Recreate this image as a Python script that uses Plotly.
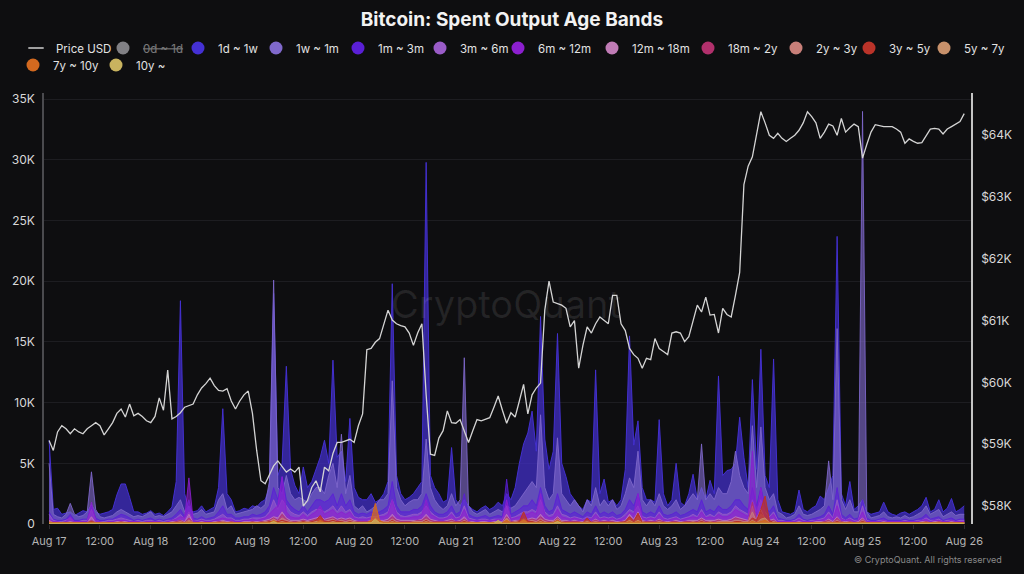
import plotly.graph_objects as go
import pandas as pd

# ---------------- data (hourly, Aug 17 00:00 -> Aug 26 00:00) ----------------
times = pd.date_range("2024-08-17 00:00", "2024-08-26 00:00", freq="h")

tick_vals = ["2024-08-17 00:00", "2024-08-17 12:00", "2024-08-18 00:00", "2024-08-18 12:00",
             "2024-08-19 00:00", "2024-08-19 12:00", "2024-08-20 00:00", "2024-08-20 12:00",
             "2024-08-21 00:00", "2024-08-21 12:00", "2024-08-22 00:00", "2024-08-22 12:00",
             "2024-08-23 00:00", "2024-08-23 12:00", "2024-08-24 00:00", "2024-08-24 12:00",
             "2024-08-25 00:00", "2024-08-25 12:00", "2024-08-26 00:00"]
tick_text = ["Aug 17", "12:00", "Aug 18", "12:00", "Aug 19", "12:00", "Aug 20", "12:00",
             "Aug 21", "12:00", "Aug 22", "12:00", "Aug 23", "12:00", "Aug 24", "12:00",
             "Aug 25", "12:00", "Aug 26"]

left_tick_vals = [0, 5, 10, 15, 20, 25, 30, 35]
left_tick_text = ["0", "5K", "10K", "15K", "20K", "25K", "30K", "35K"]
right_tick_vals = [58, 59, 60, 61, 62, 63, 64]
right_tick_text = ["$58K", "$59K", "$60K", "$61K", "$62K", "$63K", "$64K"]

# Price USD (thousands)
price_usd = [
    59.06, 58.9, 59.2, 59.3, 59.25, 59.17, 59.25, 59.2, 59.17, 59.25, 59.3, 59.35,
    59.3, 59.15, 59.25, 59.35, 59.5, 59.57, 59.44, 59.65, 59.46, 59.5, 59.45, 59.38,
    59.35, 59.45, 59.75, 59.55, 60.2, 59.41, 59.45, 59.51, 59.6, 59.63, 59.65, 59.8,
    59.91, 59.98, 60.07, 59.95, 59.87, 59.86, 59.9, 59.7, 59.57, 59.7, 59.8, 59.86,
    59.5, 58.9, 58.41, 58.36, 58.5, 58.65, 58.73, 58.63, 58.55, 58.6, 58.55, 58.63,
    58.0, 58.09, 58.3, 58.41, 58.23, 58.63, 58.57, 58.85, 59.03, 59.03, 59.05, 59.08,
    59.03, 59.3, 59.49, 60.53, 60.55, 60.65, 60.71, 60.95, 61.17, 61.01, 60.95, 60.92,
    60.9, 60.8, 60.6, 60.8, 60.95, 59.8, 58.84, 58.82, 59.1, 59.22, 59.54, 59.35,
    59.34, 59.4, 59.2, 59.03, 59.22, 59.4, 59.38, 59.4, 59.43, 59.6, 59.78, 59.55,
    59.34, 59.51, 59.44, 59.7, 59.97, 59.49, 59.8, 59.91, 59.99, 61.17, 61.64, 61.3,
    61.28, 61.25, 61.2, 60.9, 61.0, 60.23, 60.6, 60.9, 60.8, 60.95, 61.06, 61.0,
    60.95, 61.41, 61.41, 60.95, 60.84, 60.55, 60.45, 60.39, 60.23, 60.39, 60.37, 60.71,
    60.55, 60.5, 60.45, 60.8, 60.82, 60.8, 60.66, 60.74, 61.0, 61.25, 61.14, 61.38,
    61.09, 61.1, 60.8, 61.2, 61.1, 61.06, 61.41, 61.78, 63.2, 63.5, 63.65, 64.0,
    64.38, 64.2, 64.0, 63.95, 64.03, 63.95, 63.9, 63.95, 64.0, 64.08, 64.2, 64.38,
    64.3, 64.2, 63.95, 64.05, 64.18, 64.15, 64.0, 64.27, 64.05, 64.12, 64.18, 64.14,
    63.63, 63.85, 64.05, 64.17, 64.15, 64.14, 64.14, 64.14, 64.1, 64.05, 63.87, 63.94,
    63.9, 63.87, 63.88, 63.98, 64.1, 64.11, 64.1, 64.02, 64.1, 64.14, 64.18, 64.22,
    64.35]

# Spent output per age band (thousand BTC)
band_0d_1d = [
    2.1, 1.5, 1.4, 1.2, 1.3, 1.4, 1.1, 1.2, 1.3, 1.2, 1.8, 1.3,
    1.1, 1.2, 1.3, 1.4, 1.9, 2.2, 2.0, 1.7, 1.3, 1.2, 1.1, 1.2,
    1.3, 1.1, 1.2, 1.0, 1.3, 1.5, 2.5, 4.0, 2.0, 1.6, 1.3, 1.4,
    1.6, 1.3, 1.4, 1.5, 2.2, 3.5, 2.0, 1.8, 1.3, 1.4, 1.5, 1.4,
    1.6, 1.5, 1.8, 2.0, 2.5, 4.5, 2.8, 3.0, 3.5, 2.6, 2.2, 2.0,
    2.8, 2.2, 2.5, 3.0, 3.2, 3.5, 3.0, 4.0, 3.0, 3.2, 2.5, 3.0,
    2.0, 1.8, 1.7, 1.7, 1.9, 1.6, 1.8, 2.0, 2.4, 4.5, 2.5, 2.0,
    1.8, 1.9, 2.0, 2.2, 2.5, 5.0, 2.5, 2.2, 1.9, 1.6, 1.8, 2.6,
    1.7, 1.5, 3.0, 1.4, 1.2, 1.1, 1.2, 1.3, 1.1, 1.2, 1.4, 1.3,
    2.0, 1.7, 2.0, 2.8, 3.2, 3.5, 4.0, 3.0, 4.5, 3.2, 2.5, 2.8,
    4.0, 2.6, 2.2, 1.8, 1.7, 1.4, 1.2, 1.6, 1.5, 3.5, 1.8, 2.2,
    1.5, 1.6, 1.3, 1.6, 2.4, 4.0, 2.8, 3.2, 2.0, 1.7, 1.7, 1.5,
    3.0, 1.8, 1.4, 1.6, 2.5, 1.5, 1.4, 1.8, 2.4, 1.7, 2.5, 1.7,
    2.2, 1.8, 3.5, 2.4, 2.5, 2.6, 3.0, 3.5, 2.8, 2.2, 3.8, 2.4,
    4.0, 2.5, 2.0, 3.6, 1.4, 1.0, 0.9, 0.9, 1.0, 1.6, 1.0, 0.9,
    1.0, 1.1, 1.4, 1.3, 2.0, 1.8, 4.5, 1.6, 1.2, 1.8, 1.0, 1.1,
    5.0, 1.0, 0.8, 0.9, 0.9, 1.2, 0.9, 0.8, 0.8, 0.9, 0.9, 0.8,
    0.9, 1.0, 1.1, 1.4, 0.9, 1.0, 1.3, 0.9, 1.0, 1.3, 0.9, 1.0,
    1.1]

band_1d_1w = [
    6.9, 1.2, 1.3, 0.8, 0.9, 1.0, 0.7, 0.9, 1.1, 1.0, 1.6, 1.0,
    0.8, 0.9, 1.0, 1.2, 2.4, 3.3, 3.3, 2.2, 1.0, 1.0, 0.8, 0.9,
    1.1, 0.8, 0.9, 0.7, 1.0, 1.4, 3.5, 18.4, 2.5, 1.2, 1.0, 1.1,
    1.5, 1.0, 1.2, 1.4, 3.0, 9.5, 2.5, 2.0, 1.0, 1.1, 1.3, 1.2,
    1.5, 1.4, 1.8, 2.0, 3.0, 19.0, 4.0, 5.0, 13.0, 4.5, 3.2, 2.5,
    4.7, 3.0, 3.5, 4.5, 5.5, 6.9, 5.0, 13.5, 5.5, 6.0, 3.5, 8.7,
    3.0, 2.2, 2.0, 2.0, 2.5, 1.8, 2.0, 2.5, 3.5, 19.8, 4.0, 2.5,
    2.0, 2.2, 2.5, 3.0, 3.5, 29.8, 4.0, 3.0, 2.5, 1.8, 2.0, 6.3,
    2.0, 1.5, 2.0, 1.5, 1.2, 1.0, 1.3, 1.5, 1.2, 1.4, 1.8, 1.5,
    2.5, 2.0, 3.0, 5.0, 6.6, 7.5, 9.3, 6.0, 17.1, 7.0, 4.5, 6.0,
    15.7, 5.0, 3.9, 2.5, 2.0, 1.5, 1.2, 2.0, 1.8, 12.7, 2.5, 3.7,
    1.8, 2.0, 1.5, 2.0, 4.5, 15.5, 6.5, 8.5, 3.0, 2.0, 2.0, 1.8,
    8.6, 2.5, 1.5, 2.0, 5.0, 1.8, 1.5, 2.5, 4.1, 2.0, 3.0, 2.0,
    3.6, 2.5, 12.2, 4.0, 4.4, 4.5, 5.0, 8.8, 5.5, 3.0, 11.9, 4.5,
    14.4, 4.0, 3.0, 13.6, 2.0, 1.0, 0.9, 0.8, 1.0, 2.8, 1.2, 1.0,
    1.3, 1.5, 2.3, 2.0, 3.0, 4.0, 23.7, 2.5, 1.5, 3.5, 1.2, 1.5,
    2.0, 1.0, 0.8, 0.9, 1.0, 1.8, 1.0, 0.8, 0.7, 0.9, 1.0, 0.8,
    1.0, 1.2, 1.5, 2.2, 1.0, 1.2, 2.0, 1.0, 1.3, 2.1, 1.0, 1.2,
    1.5]

band_1w_1m = [
    5.0, 0.8, 0.6, 0.5, 0.8, 1.7, 0.8, 0.6, 0.7, 1.0, 4.3, 1.2,
    0.6, 0.5, 0.6, 0.7, 1.0, 1.2, 1.0, 0.8, 0.6, 0.7, 0.6, 0.8,
    1.0, 0.6, 0.7, 0.6, 0.8, 1.0, 1.5, 2.0, 1.0, 1.5, 0.8, 0.9,
    1.2, 0.8, 0.9, 1.0, 2.0, 2.5, 1.2, 1.5, 0.8, 0.9, 1.0, 1.1,
    1.2, 1.5, 1.3, 1.6, 3.5, 20.1, 3.0, 2.5, 4.0, 2.5, 2.0, 2.2,
    2.0, 1.8, 2.5, 3.0, 3.0, 2.5, 4.0, 5.0, 3.0, 7.4, 2.5, 4.0,
    1.5, 1.2, 1.5, 1.0, 1.2, 1.5, 2.0, 2.0, 2.5, 11.8, 3.0, 2.0,
    1.5, 1.8, 2.0, 2.0, 2.5, 7.0, 3.0, 2.0, 1.5, 1.2, 1.5, 2.5,
    1.5, 2.0, 13.7, 1.5, 1.0, 0.8, 1.0, 1.2, 0.8, 1.0, 1.2, 1.0,
    1.5, 1.3, 1.5, 2.0, 2.5, 3.0, 3.5, 3.0, 9.0, 3.0, 2.0, 2.5,
    7.1, 2.5, 2.0, 1.5, 2.0, 1.5, 1.0, 2.0, 1.5, 3.0, 1.5, 2.0,
    1.5, 2.0, 1.2, 1.5, 2.5, 3.8, 3.0, 6.0, 2.0, 1.5, 2.0, 1.5,
    2.5, 1.5, 1.2, 1.5, 2.0, 1.2, 1.5, 2.0, 2.5, 2.0, 6.6, 2.0,
    2.5, 2.0, 3.0, 2.5, 2.5, 3.5, 6.0, 4.0, 3.0, 2.5, 8.1, 3.0,
    8.0, 3.0, 2.0, 2.5, 1.0, 0.8, 0.5, 0.6, 0.8, 1.5, 0.8, 0.7,
    0.8, 1.0, 1.2, 1.5, 5.2, 2.0, 16.1, 2.0, 1.2, 2.0, 1.0, 1.0,
    34.0, 1.0, 0.5, 0.6, 0.7, 1.0, 0.6, 0.5, 0.6, 0.5, 0.7, 0.5,
    0.6, 0.8, 1.0, 1.5, 0.8, 1.0, 1.2, 0.6, 0.8, 1.0, 0.7, 0.8,
    0.8]

band_1m_3m = [
    1.0, 0.4, 0.3, 0.3, 0.4, 0.8, 0.3, 0.3, 0.4, 0.4, 1.5, 0.5,
    0.3, 0.3, 0.4, 0.4, 0.6, 0.8, 0.7, 0.5, 0.3, 0.4, 0.3, 0.4,
    0.5, 0.3, 0.4, 0.3, 0.4, 0.5, 0.8, 1.2, 0.6, 2.0, 0.5, 0.4,
    0.6, 0.4, 0.5, 0.6, 1.0, 1.5, 0.8, 0.8, 0.5, 0.5, 0.6, 0.6,
    0.8, 0.7, 0.8, 1.0, 1.5, 3.0, 2.0, 3.9, 2.0, 1.5, 1.2, 1.0,
    1.5, 1.0, 1.5, 2.0, 2.0, 1.8, 2.0, 2.5, 1.5, 2.5, 1.5, 2.0,
    1.0, 0.8, 0.9, 0.8, 1.0, 0.9, 1.0, 1.2, 1.5, 3.5, 1.5, 1.0,
    1.0, 1.0, 1.2, 1.2, 1.5, 2.5, 1.5, 1.0, 0.8, 0.8, 1.0, 1.5,
    0.8, 1.0, 2.5, 0.8, 0.6, 0.5, 0.6, 0.7, 0.5, 0.6, 0.7, 0.6,
    3.7, 0.8, 1.0, 1.2, 1.5, 1.5, 2.0, 1.5, 3.0, 1.5, 1.0, 1.2,
    2.5, 1.2, 1.0, 0.8, 1.0, 0.8, 0.6, 1.0, 0.8, 1.5, 0.8, 1.0,
    0.8, 1.0, 0.7, 0.8, 1.2, 2.0, 1.5, 2.5, 1.0, 0.8, 1.0, 0.8,
    1.5, 0.8, 0.7, 0.8, 1.0, 0.7, 0.8, 1.0, 1.2, 1.0, 2.0, 1.0,
    1.2, 1.0, 1.5, 1.2, 1.2, 1.5, 2.0, 2.0, 1.5, 1.2, 3.0, 1.5,
    3.0, 1.5, 1.0, 1.5, 0.5, 0.4, 0.3, 0.3, 0.4, 0.8, 0.4, 0.3,
    0.4, 0.5, 0.6, 0.8, 1.5, 0.8, 3.0, 0.8, 0.5, 0.8, 0.4, 0.5,
    2.0, 0.5, 0.3, 0.3, 0.4, 0.5, 0.3, 0.3, 0.3, 0.3, 0.4, 0.3,
    0.3, 0.4, 0.5, 0.8, 0.4, 0.5, 0.6, 0.3, 0.4, 0.5, 0.3, 0.4,
    0.4]

band_3m_6m = [
    0.8, 0.3, 0.2, 0.2, 0.3, 0.5, 0.2, 0.2, 0.3, 0.3, 1.2, 0.3,
    0.2, 0.2, 0.3, 0.3, 0.4, 0.5, 0.4, 0.3, 0.2, 0.3, 0.2, 0.3,
    0.3, 0.2, 0.3, 0.2, 0.3, 0.3, 0.5, 0.8, 0.4, 1.0, 0.3, 0.3,
    0.4, 0.3, 0.3, 0.4, 0.6, 0.8, 0.5, 0.5, 0.3, 0.3, 0.4, 0.4,
    0.5, 0.5, 0.5, 0.6, 1.0, 2.0, 1.2, 2.0, 1.5, 1.0, 0.8, 0.7,
    1.0, 0.7, 1.0, 1.2, 1.2, 1.0, 1.2, 1.5, 1.0, 1.5, 1.0, 1.2,
    0.6, 0.5, 0.6, 0.5, 0.6, 0.6, 0.7, 0.8, 1.0, 2.0, 1.0, 0.7,
    0.6, 0.7, 0.8, 0.8, 1.0, 1.5, 1.0, 0.7, 0.5, 0.5, 0.6, 1.0,
    0.5, 0.6, 1.5, 0.5, 0.4, 0.3, 0.4, 0.4, 0.3, 0.4, 0.4, 0.4,
    1.5, 0.5, 0.6, 0.8, 1.0, 1.0, 1.2, 1.0, 2.0, 1.0, 0.7, 0.8,
    1.5, 0.8, 0.7, 0.5, 0.6, 0.5, 0.4, 0.6, 0.5, 1.0, 0.5, 0.6,
    0.5, 0.6, 0.4, 0.5, 0.8, 1.2, 1.0, 1.5, 0.6, 0.5, 0.6, 0.5,
    1.0, 0.5, 0.4, 0.5, 0.6, 0.4, 0.5, 0.6, 0.8, 0.6, 1.2, 0.6,
    0.8, 0.6, 1.0, 0.8, 0.8, 1.0, 1.5, 1.2, 1.0, 0.8, 2.0, 1.0,
    2.0, 1.0, 0.6, 1.0, 0.3, 0.3, 0.2, 0.2, 0.3, 0.5, 0.3, 0.2,
    0.3, 0.3, 0.4, 0.5, 1.0, 0.5, 2.0, 0.5, 0.3, 0.5, 0.3, 0.3,
    1.5, 0.3, 0.2, 0.2, 0.3, 0.3, 0.2, 0.2, 0.2, 0.2, 0.3, 0.2,
    0.2, 0.3, 0.3, 0.5, 0.3, 0.3, 0.4, 0.2, 0.3, 0.3, 0.2, 0.3,
    0.3]

band_6m_12m = [
    0.4, 0.2, 0.2, 0.1, 0.2, 0.6, 0.2, 0.2, 0.2, 0.2, 1.8, 0.3,
    0.2, 0.1, 0.2, 0.2, 0.3, 0.3, 0.3, 0.2, 0.2, 0.2, 0.1, 0.2,
    0.2, 0.2, 0.2, 0.1, 0.2, 0.3, 0.4, 0.6, 0.5, 3.8, 0.3, 0.2,
    0.3, 0.2, 0.2, 0.3, 0.4, 0.5, 0.4, 0.4, 0.2, 0.2, 0.3, 0.3,
    0.4, 0.3, 0.4, 0.5, 0.8, 1.2, 1.5, 3.9, 1.0, 0.6, 0.5, 0.5,
    0.8, 0.5, 0.8, 1.0, 1.5, 0.8, 1.0, 1.2, 0.8, 1.0, 0.8, 1.0,
    0.5, 0.4, 0.4, 0.4, 0.5, 0.5, 0.6, 0.6, 0.8, 2.0, 0.8, 0.5,
    0.5, 0.5, 0.6, 0.6, 0.8, 2.0, 0.8, 0.6, 0.4, 0.4, 0.5, 0.8,
    0.4, 0.5, 1.2, 0.4, 0.3, 0.3, 0.3, 0.3, 0.3, 0.3, 0.4, 0.3,
    2.0, 0.4, 0.5, 0.6, 0.8, 0.8, 1.0, 0.8, 2.5, 0.8, 0.5, 0.6,
    1.2, 0.6, 0.5, 0.4, 0.5, 0.4, 0.3, 0.5, 0.4, 0.8, 0.4, 0.5,
    0.4, 0.5, 0.3, 0.4, 0.6, 1.0, 0.8, 2.5, 0.5, 0.4, 0.5, 0.4,
    0.8, 0.4, 0.3, 0.4, 0.5, 0.3, 0.4, 0.5, 0.6, 0.5, 1.0, 0.5,
    0.6, 0.5, 0.8, 0.6, 0.6, 0.8, 1.2, 1.0, 0.8, 0.6, 6.0, 0.8,
    3.0, 0.8, 0.5, 0.8, 0.2, 0.2, 0.2, 0.2, 0.2, 0.4, 0.2, 0.2,
    0.2, 0.3, 0.3, 0.4, 0.8, 0.4, 1.5, 0.4, 0.3, 0.4, 0.2, 0.3,
    1.0, 0.2, 0.2, 0.2, 0.2, 0.3, 0.2, 0.2, 0.2, 0.2, 0.2, 0.2,
    0.2, 0.2, 0.3, 0.4, 0.2, 0.3, 0.3, 0.2, 0.2, 0.3, 0.2, 0.2,
    0.2]

band_12m_18m = [
    0.3, 0.1, 0.1, 0.1, 0.1, 0.2, 0.1, 0.1, 0.1, 0.1, 0.6, 0.1,
    0.1, 0.1, 0.1, 0.1, 0.2, 0.2, 0.2, 0.1, 0.1, 0.1, 0.1, 0.1,
    0.1, 0.1, 0.1, 0.1, 0.1, 0.2, 0.2, 0.3, 0.2, 0.8, 0.1, 0.1,
    0.2, 0.1, 0.1, 0.2, 0.2, 0.3, 0.2, 0.2, 0.1, 0.1, 0.2, 0.2,
    0.2, 0.2, 0.2, 0.3, 0.4, 0.6, 0.5, 1.0, 0.5, 0.3, 0.3, 0.3,
    0.4, 0.3, 0.4, 0.5, 0.6, 0.4, 0.5, 0.6, 0.4, 0.5, 0.4, 0.5,
    0.3, 0.2, 0.2, 0.2, 0.3, 0.4, 0.3, 0.3, 0.4, 0.8, 0.4, 0.3,
    0.3, 0.3, 0.3, 0.3, 0.4, 0.8, 0.4, 0.3, 0.2, 0.2, 0.3, 0.4,
    0.2, 0.3, 0.6, 0.2, 0.2, 0.1, 0.2, 0.2, 0.1, 0.2, 0.2, 0.2,
    0.8, 0.2, 0.3, 0.3, 0.4, 0.4, 0.5, 0.4, 0.8, 0.4, 0.3, 0.3,
    0.6, 0.3, 0.3, 0.2, 0.3, 0.2, 0.2, 0.3, 0.2, 0.4, 0.2, 0.3,
    0.2, 0.3, 0.2, 0.2, 0.3, 0.8, 0.4, 1.0, 0.3, 0.2, 0.3, 0.2,
    0.4, 0.2, 0.2, 0.2, 0.3, 0.2, 0.2, 0.3, 0.3, 0.3, 0.5, 0.3,
    0.3, 0.3, 0.4, 0.3, 0.3, 0.4, 0.6, 0.5, 0.4, 0.3, 1.5, 0.4,
    1.2, 0.4, 0.3, 0.4, 0.1, 0.1, 0.1, 0.1, 0.1, 0.2, 0.1, 0.1,
    0.1, 0.2, 0.2, 0.2, 0.4, 0.2, 0.6, 0.2, 0.2, 0.2, 0.1, 0.2,
    0.5, 0.1, 0.1, 0.1, 0.1, 0.2, 0.1, 0.1, 0.1, 0.1, 0.1, 0.1,
    0.1, 0.1, 0.2, 0.2, 0.1, 0.2, 0.2, 0.1, 0.1, 0.2, 0.1, 0.1,
    0.1]

band_18m_2y = [
    0.2, 0.1, 0.1, 0.1, 0.1, 0.1, 0.1, 0.1, 0.1, 0.1, 0.3, 0.1,
    0.1, 0.1, 0.1, 0.1, 0.1, 0.2, 0.1, 0.1, 0.1, 0.1, 0.1, 0.1,
    0.1, 0.1, 0.1, 0.1, 0.1, 0.1, 0.2, 0.3, 0.1, 0.5, 0.1, 0.1,
    0.1, 0.1, 0.1, 0.1, 0.2, 0.2, 0.1, 0.2, 0.1, 0.1, 0.1, 0.1,
    0.2, 0.1, 0.2, 0.2, 0.3, 0.5, 0.3, 0.8, 0.4, 0.2, 0.2, 0.2,
    0.3, 0.2, 0.3, 0.4, 0.5, 0.3, 0.4, 0.5, 0.3, 0.4, 0.3, 0.4,
    0.2, 0.2, 0.2, 0.2, 0.2, 0.3, 0.2, 0.2, 0.3, 0.6, 0.3, 0.2,
    0.2, 0.2, 0.2, 0.3, 0.3, 0.6, 0.3, 0.2, 0.2, 0.2, 0.2, 0.3,
    0.2, 0.2, 0.4, 0.2, 0.1, 0.1, 0.1, 0.1, 0.1, 0.1, 0.2, 0.1,
    0.6, 0.2, 0.2, 0.3, 0.3, 0.3, 0.4, 0.3, 0.6, 0.3, 0.2, 0.2,
    0.5, 0.2, 0.2, 0.2, 0.2, 0.2, 0.1, 0.2, 0.2, 0.3, 0.2, 0.2,
    0.2, 0.2, 0.1, 0.2, 0.2, 0.6, 0.3, 0.8, 0.2, 0.2, 0.2, 0.2,
    0.3, 0.2, 0.1, 0.2, 0.2, 0.1, 0.2, 0.2, 0.2, 0.2, 0.4, 0.2,
    0.2, 0.2, 0.3, 0.2, 0.2, 0.3, 0.5, 0.4, 0.3, 0.2, 1.8, 0.3,
    1.0, 0.3, 0.2, 0.3, 0.1, 0.1, 0.1, 0.1, 0.1, 0.1, 0.1, 0.1,
    0.1, 0.1, 0.1, 0.2, 0.3, 0.1, 0.5, 0.2, 0.1, 0.2, 0.1, 0.1,
    0.4, 0.1, 0.1, 0.1, 0.1, 0.1, 0.1, 0.1, 0.1, 0.1, 0.1, 0.1,
    0.1, 0.1, 0.1, 0.2, 0.1, 0.1, 0.2, 0.1, 0.1, 0.1, 0.1, 0.1,
    0.1]

band_2y_3y = [
    0.2, 0.1, 0.1, 0.1, 0.1, 0.1, 0.1, 0.1, 0.1, 0.1, 0.2, 0.1,
    0.1, 0.1, 0.1, 0.1, 0.1, 0.1, 0.1, 0.1, 0.1, 0.1, 0.1, 0.1,
    0.1, 0.1, 0.1, 0.1, 0.1, 0.1, 0.1, 0.2, 0.1, 0.3, 0.1, 0.1,
    0.1, 0.1, 0.1, 0.1, 0.1, 0.2, 0.1, 0.1, 0.1, 0.1, 0.1, 0.1,
    0.1, 0.1, 0.1, 0.2, 0.2, 0.4, 0.2, 0.5, 0.3, 0.2, 0.1, 0.2,
    0.2, 0.2, 0.2, 0.3, 0.4, 0.2, 0.3, 0.4, 0.2, 0.3, 0.2, 0.3,
    0.2, 0.1, 0.1, 0.1, 0.2, 0.5, 0.2, 0.2, 0.2, 0.4, 0.2, 0.1,
    0.1, 0.1, 0.2, 0.2, 0.2, 0.4, 0.2, 0.1, 0.1, 0.1, 0.1, 0.2,
    0.1, 0.1, 0.3, 0.1, 0.1, 0.1, 0.1, 0.1, 0.1, 0.1, 0.1, 0.1,
    0.5, 0.1, 0.2, 0.2, 0.3, 0.2, 0.3, 0.2, 0.4, 0.2, 0.1, 0.2,
    0.4, 0.2, 0.1, 0.1, 0.1, 0.1, 0.1, 0.1, 0.1, 0.2, 0.1, 0.1,
    0.1, 0.1, 0.1, 0.1, 0.2, 0.5, 0.2, 0.6, 0.2, 0.1, 0.1, 0.1,
    0.2, 0.1, 0.1, 0.1, 0.1, 0.1, 0.1, 0.1, 0.2, 0.1, 0.3, 0.1,
    0.2, 0.1, 0.2, 0.2, 0.2, 0.2, 0.3, 0.3, 0.2, 0.2, 1.0, 0.2,
    0.8, 0.5, 0.2, 0.2, 0.1, 0.1, 0.1, 0.1, 0.1, 0.1, 0.1, 0.1,
    0.1, 0.1, 0.1, 0.1, 0.2, 0.1, 0.3, 0.1, 0.1, 0.1, 0.1, 0.1,
    0.3, 0.1, 0.1, 0.1, 0.1, 0.1, 0.1, 0.1, 0.1, 0.1, 0.1, 0.1,
    0.1, 0.1, 0.1, 0.1, 0.1, 0.1, 0.1, 0.1, 0.1, 0.1, 0.1, 0.1,
    0.1]

band_3y_5y = [
    0.1, 0.1, 0.1, 0.1, 0.1, 0.1, 0.1, 0.1, 0.1, 0.1, 0.2, 0.1,
    0.1, 0.1, 0.1, 0.1, 0.1, 0.1, 0.1, 0.1, 0.1, 0.1, 0.1, 0.1,
    0.1, 0.1, 0.1, 0.1, 0.1, 0.1, 0.1, 0.1, 0.1, 0.2, 0.1, 0.1,
    0.1, 0.1, 0.1, 0.1, 0.1, 0.1, 0.1, 0.1, 0.1, 0.1, 0.1, 0.1,
    0.1, 0.1, 0.1, 0.1, 0.2, 0.2, 0.2, 0.3, 0.2, 0.1, 0.1, 0.1,
    0.2, 0.1, 0.2, 0.3, 0.7, 0.2, 0.2, 0.3, 0.2, 0.2, 0.1, 0.2,
    0.1, 0.1, 0.1, 0.1, 0.2, 0.4, 0.2, 0.1, 0.1, 0.3, 0.1, 0.1,
    0.1, 0.1, 0.1, 0.1, 0.1, 0.3, 0.1, 0.1, 0.1, 0.1, 0.1, 0.1,
    0.1, 0.1, 0.2, 0.1, 0.1, 0.1, 0.1, 0.1, 0.1, 0.1, 0.1, 0.1,
    0.3, 0.1, 0.1, 0.2, 1.0, 0.2, 0.2, 0.1, 0.3, 0.1, 0.1, 0.1,
    0.3, 0.1, 0.1, 0.1, 0.1, 0.1, 0.1, 0.5, 0.1, 0.1, 0.1, 0.1,
    0.1, 0.1, 0.1, 0.1, 0.2, 0.6, 0.2, 0.9, 0.1, 0.1, 0.1, 0.1,
    0.1, 0.1, 0.1, 0.1, 0.1, 0.1, 0.1, 0.1, 0.1, 0.1, 0.2, 0.1,
    0.1, 0.1, 0.1, 0.1, 0.1, 0.1, 0.2, 0.2, 0.1, 0.1, 0.5, 0.3,
    1.2, 2.3, 0.3, 0.1, 0.1, 0.1, 0.1, 0.1, 0.1, 0.1, 0.1, 0.1,
    0.1, 0.1, 0.1, 0.1, 0.1, 0.1, 0.2, 0.1, 0.1, 0.1, 0.1, 0.1,
    0.2, 0.1, 0.1, 0.1, 0.1, 0.1, 0.1, 0.1, 0.1, 0.1, 0.1, 0.1,
    0.1, 0.1, 0.1, 0.1, 0.1, 0.1, 0.1, 0.1, 0.1, 0.1, 0.1, 0.1,
    0.1]

band_5y_7y = [
    0.1, 0.1, 0.1, 0.1, 0.1, 0.1, 0.1, 0.1, 0.1, 0.1, 0.1, 0.1,
    0.1, 0.1, 0.1, 0.1, 0.1, 0.1, 0.1, 0.1, 0.1, 0.1, 0.1, 0.1,
    0.1, 0.1, 0.1, 0.1, 0.1, 0.1, 0.1, 0.1, 0.1, 0.2, 0.1, 0.1,
    0.1, 0.1, 0.1, 0.1, 0.1, 0.1, 0.1, 0.1, 0.1, 0.1, 0.1, 0.1,
    0.1, 0.1, 0.1, 0.1, 0.1, 0.2, 0.1, 0.2, 0.1, 0.1, 0.1, 0.1,
    0.1, 0.1, 0.1, 0.2, 0.2, 0.1, 0.1, 0.2, 0.1, 0.1, 0.1, 0.1,
    0.1, 0.1, 0.1, 0.1, 0.1, 0.5, 0.1, 0.1, 0.1, 0.2, 0.1, 0.1,
    0.1, 0.1, 0.1, 0.1, 0.1, 0.2, 0.1, 0.1, 0.1, 0.1, 0.1, 0.1,
    0.1, 0.1, 0.1, 0.1, 0.1, 0.1, 0.1, 0.1, 0.1, 0.1, 0.1, 0.1,
    0.4, 0.1, 0.1, 0.1, 0.3, 0.1, 0.1, 0.1, 0.2, 0.1, 0.1, 0.1,
    0.2, 0.1, 0.1, 0.1, 0.1, 0.1, 0.1, 0.2, 0.1, 0.1, 0.1, 0.1,
    0.1, 0.1, 0.1, 0.1, 0.1, 0.3, 0.1, 0.3, 0.1, 0.1, 0.1, 0.1,
    0.1, 0.1, 0.1, 0.1, 0.1, 0.1, 0.1, 0.1, 0.1, 0.1, 0.1, 0.1,
    0.1, 0.1, 0.1, 0.1, 0.1, 0.1, 0.1, 0.1, 0.1, 0.1, 0.3, 0.1,
    0.4, 0.5, 0.1, 0.1, 0.1, 0.1, 0.1, 0.1, 0.1, 0.1, 0.1, 0.1,
    0.1, 0.1, 0.1, 0.1, 0.1, 0.1, 0.1, 0.1, 0.1, 0.1, 0.1, 0.1,
    0.1, 0.1, 0.1, 0.1, 0.1, 0.1, 0.1, 0.1, 0.1, 0.1, 0.1, 0.1,
    0.1, 0.1, 0.1, 0.1, 0.1, 0.1, 0.1, 0.1, 0.1, 0.1, 0.1, 0.1,
    0.1]

band_7y_10y = [
    0.1, 0.1, 0.1, 0.1, 0.1, 0.1, 0.1, 0.1, 0.1, 0.1, 0.1, 0.1,
    0.1, 0.1, 0.1, 0.1, 0.1, 0.1, 0.1, 0.1, 0.1, 0.1, 0.1, 0.1,
    0.1, 0.1, 0.1, 0.1, 0.1, 0.1, 0.1, 0.1, 0.1, 0.1, 0.1, 0.1,
    0.1, 0.1, 0.1, 0.1, 0.1, 0.1, 0.1, 0.1, 0.1, 0.1, 0.1, 0.1,
    0.1, 0.1, 0.1, 0.1, 0.1, 0.3, 0.1, 0.1, 0.1, 0.1, 0.1, 0.1,
    0.1, 0.1, 0.1, 0.1, 0.3, 0.1, 0.1, 0.1, 0.1, 0.1, 0.1, 0.1,
    0.1, 0.1, 0.1, 0.1, 0.3, 1.7, 0.3, 0.1, 0.1, 0.1, 0.1, 0.1,
    0.1, 0.1, 0.1, 0.1, 0.1, 0.1, 0.1, 0.1, 0.1, 0.1, 0.1, 0.1,
    0.1, 0.1, 0.1, 0.1, 0.1, 0.1, 0.1, 0.1, 0.1, 0.1, 0.1, 0.1,
    0.3, 0.1, 0.1, 0.1, 0.4, 0.1, 0.1, 0.1, 0.1, 0.1, 0.1, 0.1,
    0.3, 0.1, 0.1, 0.1, 0.1, 0.1, 0.1, 0.1, 0.1, 0.1, 0.1, 0.1,
    0.1, 0.1, 0.1, 0.1, 0.1, 0.2, 0.1, 0.2, 0.1, 0.1, 0.1, 0.1,
    0.1, 0.1, 0.1, 0.1, 0.1, 0.1, 0.1, 0.1, 0.1, 0.1, 0.1, 0.1,
    0.1, 0.1, 0.1, 0.1, 0.1, 0.1, 0.1, 0.1, 0.1, 0.1, 0.2, 0.1,
    0.2, 0.3, 0.1, 0.1, 0.1, 0.1, 0.1, 0.1, 0.1, 0.1, 0.1, 0.1,
    0.1, 0.1, 0.1, 0.1, 0.1, 0.1, 0.1, 0.1, 0.1, 0.1, 0.1, 0.1,
    0.1, 0.1, 0.1, 0.1, 0.1, 0.1, 0.1, 0.1, 0.1, 0.1, 0.1, 0.1,
    0.1, 0.1, 0.1, 0.1, 0.1, 0.1, 0.1, 0.1, 0.1, 0.1, 0.1, 0.1,
    0.1]

band_10y_plus = [
    0.05, 0.05, 0.05, 0.05, 0.05, 0.05, 0.05, 0.05, 0.05, 0.05, 0.05, 0.05,
    0.05, 0.05, 0.05, 0.05, 0.05, 0.05, 0.05, 0.05, 0.05, 0.05, 0.05, 0.05,
    0.05, 0.05, 0.05, 0.05, 0.05, 0.05, 0.05, 0.05, 0.05, 0.05, 0.05, 0.05,
    0.05, 0.05, 0.05, 0.05, 0.05, 0.05, 0.05, 0.05, 0.05, 0.05, 0.05, 0.05,
    0.05, 0.05, 0.05, 0.05, 0.05, 0.2, 0.05, 0.05, 0.05, 0.05, 0.05, 0.05,
    0.05, 0.05, 0.05, 0.05, 0.1, 0.05, 0.05, 0.05, 0.05, 0.05, 0.05, 0.05,
    0.05, 0.05, 0.05, 0.05, 0.1, 0.4, 0.1, 0.05, 0.05, 0.05, 0.05, 0.05,
    0.05, 0.05, 0.05, 0.05, 0.05, 0.05, 0.05, 0.05, 0.05, 0.05, 0.05, 0.05,
    0.05, 0.05, 0.05, 0.05, 0.05, 0.05, 0.05, 0.05, 0.05, 0.05, 0.3, 0.05,
    0.05, 0.05, 0.05, 0.05, 0.1, 0.05, 0.05, 0.05, 0.05, 0.05, 0.05, 0.05,
    0.2, 0.05, 0.05, 0.05, 0.05, 0.05, 0.05, 0.05, 0.05, 0.05, 0.05, 0.05,
    0.05, 0.05, 0.05, 0.05, 0.05, 0.05, 0.05, 0.1, 0.05, 0.05, 0.05, 0.05,
    0.05, 0.05, 0.05, 0.05, 0.05, 0.05, 0.05, 0.05, 0.05, 0.05, 0.05, 0.05,
    0.05, 0.05, 0.05, 0.05, 0.05, 0.05, 0.05, 0.05, 0.05, 0.05, 0.1, 0.05,
    0.1, 0.1, 0.05, 0.05, 0.05, 0.05, 0.05, 0.05, 0.05, 0.05, 0.05, 0.05,
    0.05, 0.05, 0.05, 0.05, 0.05, 0.05, 0.05, 0.05, 0.05, 0.05, 0.05, 0.05,
    0.05, 0.05, 0.05, 0.05, 0.05, 0.05, 0.05, 0.05, 0.05, 0.05, 0.05, 0.05,
    0.05, 0.05, 0.05, 0.05, 0.05, 0.05, 0.05, 0.05, 0.05, 0.05, 0.05, 0.05,
    0.05]

band_names = ["<s>0d ~ 1d</s>", "1d ~ 1w", "1w ~ 1m", "1m ~ 3m", "3m ~ 6m", "6m ~ 12m",
              "12m ~ 18m", "18m ~ 2y", "2y ~ 3y", "3y ~ 5y", "5y ~ 7y", "7y ~ 10y", "10y ~"]
band_values = [band_0d_1d, band_1d_1w, band_1w_1m, band_1m_3m, band_3m_6m, band_6m_12m,
               band_12m_18m, band_18m_2y, band_2y_3y, band_3y_5y, band_5y_7y, band_7y_10y,
               band_10y_plus]
band_colors = ["#a19db0", "#4430d4", "#8069cc", "#5a1fd6", "#9a5cc8", "#8c1fcf",
               "#c07cb6", "#b1306c", "#c87f79", "#ba3329", "#c8916b", "#d3691f", "#c9b35f"]
legend_colors = ["#f4f2fa", "#4430d4", "#8069cc", "#5a1fd6", "#9a5cc8", "#8c1fcf",
                 "#c07cb6", "#b1306c", "#c87f79", "#ba3329", "#c8916b", "#d3691f", "#c9b35f"]
band_alpha = [0.5, 0.7, 0.62, 0.6, 0.55, 0.6, 0.55, 0.6, 0.6, 0.75, 0.6, 0.75, 0.7]
# legend item widths (px) so the entries line up like the original
legend_widths = [30, 33, 37, 37, 54, 49, 51, 43, 28, 30, 50, 38, 38]
legend_ids = ["legend"] * 5 + ["legend3"] * 6 + ["legend2"] * 2

for arr in band_values + [price_usd]:
    assert len(arr) == len(times), len(arr)


def rgba(hex_color, a):
    h = hex_color.lstrip("#")
    r, g, b = int(h[0:2], 16), int(h[2:4], 16), int(h[4:6], 16)
    return f"rgba({r},{g},{b},{a})"


fig = go.Figure()

# legend entry for price (short dash)
fig.add_trace(go.Scatter(
    x=[None], y=[None], mode="markers", name="Price USD", legendgroup="price",
    marker=dict(symbol="line-ew-open", size=11, color="#d0d0d0",
                line=dict(color="#d0d0d0", width=1.6)),
    legendwidth=42, legend="legend", hoverinfo="skip"))

for name, vals, col, lcol, al, lw, lid in zip(band_names, band_values, band_colors,
                                               legend_colors, band_alpha, legend_widths,
                                               legend_ids):
    vis = "legendonly" if name.startswith("<s>") else True
    fig.add_trace(go.Scatter(
        x=times, y=vals, mode="lines", name=name, legendgroup=name, showlegend=False,
        line=dict(color=rgba(col, min(1, al + 0.25)), width=1),
        fill="tozeroy", fillcolor=rgba(col, al), visible=vis, hoverinfo="skip"))
    fig.add_trace(go.Scatter(
        x=[None], y=[None], mode="markers", name=name, legendgroup=name,
        marker=dict(symbol="circle", size=13, color=lcol), visible=vis,
        legendwidth=lw, legend=lid, hoverinfo="skip"))

fig.add_trace(go.Scatter(
    x=times, y=price_usd, mode="lines", name="Price USD", legendgroup="price",
    showlegend=False, yaxis="y2", line=dict(color="#d4d4d4", width=1.3), hoverinfo="skip"))

legend_style = dict(orientation="h", xref="container", xanchor="left", yref="container",
                    yanchor="middle", bgcolor="rgba(0,0,0,0)",
                    font=dict(size=11.5, color="#e2e2e2"), traceorder="normal",
                    itemclick=False, itemdoubleclick=False)

fig.update_layout(
    width=1024, height=574,
    paper_bgcolor="#0e0e10", plot_bgcolor="#0e0e10",
    margin=dict(l=44, r=49, t=90, b=50),
    font=dict(family="Inter, Roboto, sans-serif", color="#d8d8d8", size=12),
    title=dict(text="<b>Bitcoin: Spent Output Age Bands</b>", x=0.5, xref="container",
               xanchor="center", y=1 - 19 / 574, yref="container", yanchor="middle",
               font=dict(size=19, color="#f2f2f2")),
    showlegend=True,
    legend=dict(legend_style, x=16 / 1024, y=1 - 48 / 574),
    legend3=dict(legend_style, x=498 / 1024, y=1 - 48 / 574),
    legend2=dict(legend_style, x=13 / 1024, y=1 - 65 / 574),
    xaxis=dict(type="date", range=["2024-08-16 22:48", "2024-08-26 01:36"],
               tickvals=tick_vals, ticktext=tick_text, showgrid=False, zeroline=False,
               ticks="outside", ticklen=4, tickcolor="#2c2c30", showline=False,
               tickfont=dict(size=11, color="#b4b4b4"), ticklabelstandoff=3),
    yaxis=dict(range=[0, 35.5], tickvals=left_tick_vals, ticktext=left_tick_text,
               showgrid=True, gridcolor="#1d1d21", gridwidth=1, zeroline=False,
               showline=True, linecolor="#4a4a4e", linewidth=1.5,
               tickfont=dict(size=12, color="#d8d8d8"), ticklabelstandoff=5),
    yaxis2=dict(range=[57.71, 64.68], overlaying="y", side="right",
                tickvals=right_tick_vals, ticktext=right_tick_text,
                showgrid=False, zeroline=False, showline=True, linecolor="#c4c4c4",
                linewidth=1.5, tickfont=dict(size=12, color="#d8d8d8"),
                ticklabelstandoff=6),
    hovermode=False,
    annotations=[
        dict(text="CryptoQuant", x=(508 - 44) / 931, y=(524 - 302) / 434, xref="paper",
             yref="paper", showarrow=False, xanchor="center", yanchor="middle",
             font=dict(size=38, color="rgba(255,255,255,0.09)")),
        dict(text="© CryptoQuant. All rights reserved", x=(1008 - 44) / 931,
             y=(524 - 560) / 434, xref="paper", yref="paper", showarrow=False,
             xanchor="right", yanchor="middle", font=dict(size=9, color="#8a8a8a")),
    ],
)

fig.write_html("out.html")
